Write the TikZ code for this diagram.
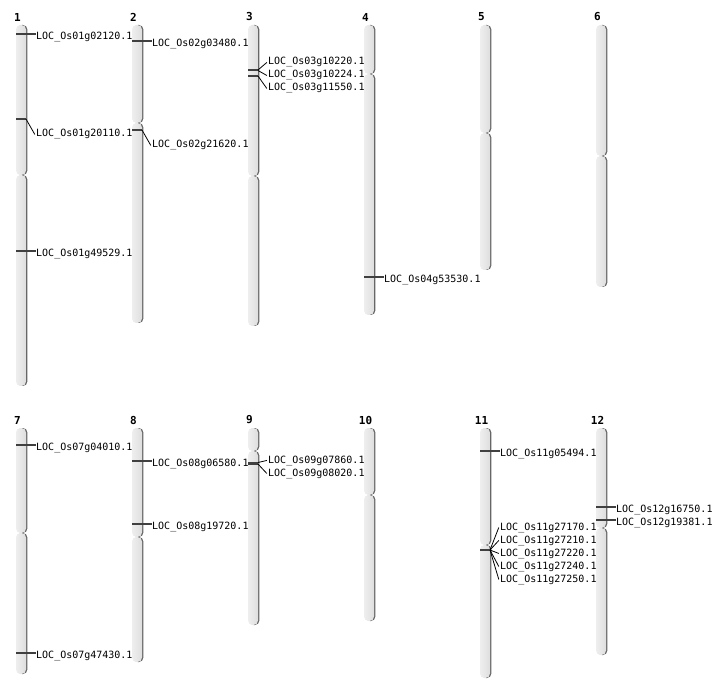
\documentclass[tikz,border=0pt]{standalone}
\usepackage{fontspec}
\setmonofont{DejaVu Sans Mono}
\begin{document}
\begin{tikzpicture}[x=1pt,y=-1pt,
  arm/.style={rounded corners=4.5pt, left color=gray!13, right color=gray!26, middle color=gray!19, draw=none},
  armshadow/.style={rounded corners=4.5pt, fill=black!60},
  mk/.style={draw=black!75, line width=1.3pt},
  spoke/.style={draw=black, line width=0.8pt},
  lbl/.style={font=\ttfamily\fontsize{10}{10}\selectfont, anchor=base west, inner sep=0pt},
  num/.style={font=\ttfamily\bfseries\fontsize{11}{11}\selectfont, inner sep=0pt}]
\useasboundingbox (0,0) rectangle (712,700);
\fill[white] (0,0) rectangle (712,700);
\newcommand\chrarm[3]{%
  \fill[armshadow] (#1+1.4,#2) rectangle (#1+11.4,#3);
  \shade[arm] (#1,#2) rectangle (#1+10,#3);}
\newcommand\chrom[6]{% name, x, top, cent, bottom, number
  \chrarm{#2}{#3}{#4}\chrarm{#2}{#4}{#5}%
  \node[num] (#1) at (#2+1.5,#3-8) {#6};}
\newcommand\slab[4]{% name, x, ymark, text
  \coordinate (#1m) at (#2,#3);
  \node[lbl] (#1) at (#2+20,#3+5.6) {#4};
  \draw[mk] (#1m) -- (#1m -| #1.west);}
\newcommand\dlab[5]{% name, x, ymark, ylabel, text
  \coordinate (#1m) at (#2,#3);
  \coordinate (#1k) at (#2+10,#3);
  \node[lbl] (#1) at (#2+20,#4+4) {#5};
  \draw[mk] (#1m) -- (#1k);
  \draw[spoke] (#1k) -- ([xshift=-1.2pt]#1.west);}
% chromosomes
\chrom{c1}{16}{25}{175}{386}{1}
\chrom{c2}{132}{25}{123}{323}{2}
\chrom{c3}{248}{25}{176}{326}{3}
\chrom{c4}{364}{25}{74}{315}{4}
\chrom{c5}{480}{25}{133}{270}{5}
\chrom{c6}{596}{25}{156}{287}{6}
\chrom{c7}{16}{428}{533}{674}{7}
\chrom{c8}{132}{428}{537}{662}{8}
\chrom{c9}{248}{428}{451}{625}{9}
\chrom{c10}{364}{428}{495}{621}{10}
\chrom{c11}{480}{428}{545}{678}{11}
\chrom{c12}{596}{428}{528}{655}{12}
% labels
\slab{a1}{16}{34}{LOC\_Os01g02120.1}
\dlab{a2}{16}{119}{133}{LOC\_Os01g20110.1}
\slab{a3}{16}{251}{LOC\_Os01g49529.1}
\slab{b1}{132}{41}{LOC\_Os02g03480.1}
\dlab{b2}{132}{130}{144}{LOC\_Os02g21620.1}
\dlab{d1}{248}{70}{61}{LOC\_Os03g10220.1}
\dlab{d2}{248}{70.5}{74}{LOC\_Os03g10224.1}
\dlab{d3}{248}{76}{87}{LOC\_Os03g11550.1}
\slab{e1}{364}{277}{LOC\_Os04g53530.1}
\slab{g1}{16}{445}{LOC\_Os07g04010.1}
\slab{g2}{16}{653}{LOC\_Os07g47430.1}
\slab{h1}{132}{461}{LOC\_Os08g06580.1}
\slab{h2}{132}{524}{LOC\_Os08g19720.1}
\dlab{i1}{248}{462.5}{459}{LOC\_Os09g07860.1}
\dlab{i2}{248}{464}{472}{LOC\_Os09g08020.1}
\slab{k1}{480}{451}{LOC\_Os11g05494.1}
\dlab{k2}{480}{550}{526}{LOC\_Os11g27170.1}
\dlab{k3}{480}{550}{539}{LOC\_Os11g27210.1}
\dlab{k4}{480}{550}{552}{LOC\_Os11g27220.1}
\dlab{k5}{480}{550}{565}{LOC\_Os11g27240.1}
\dlab{k6}{480}{550}{578}{LOC\_Os11g27250.1}
\slab{l1}{596}{507}{LOC\_Os12g16750.1}
\slab{l2}{596}{520}{LOC\_Os12g19381.1}
\end{tikzpicture}
\end{document}
